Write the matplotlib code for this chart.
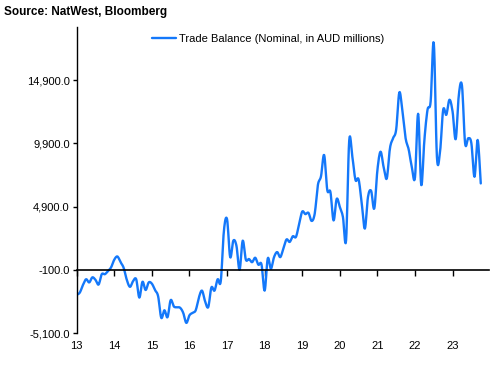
import matplotlib
matplotlib.use("Agg")
import matplotlib.pyplot as plt
import numpy as np

plt.rcParams['font.family'] = ['Liberation Sans', 'DejaVu Sans']

# Monthly trade balance, Jan 2013 onwards (AUD millions)
trade_balance = [
    -2085, -1900, -1300, -850, -1100, -700, -900, -1267, -450, -450,
    -200, 100, 700, 950, 500, 50, -900, -1450, -1000, -850,
    -2300, -1050, -1700, -1100, -1200, -1700, -2200, -3900, -3300, -3850,
    -2500, -3000, -3070, -3100, -3500, -4300, -3700, -3500, -3300, -2300,
    -1750, -2600, -3050, -1500, -1750, -850, -1000, 3000, 3900, 900,
    2200, 1800, -100, 2200, 700, 750, 500, 850, 300, 320,
    -1750, 800, -20, 900, 1300, 900, 1600, 2300, 2100, 2550,
    2500, 3500, 4500, 4300, 4400, 3760, 4350, 6600, 7300, 8975,
    6200, 6050, 3800, 5500, 4870, 4070, 2226, 10110, 8840, 7000,
    7050, 5140, 3155, 5665, 6140, 4743, 7784, 9237, 8000, 7125,
    9503, 10300, 11000, 13922, 12413, 10301, 9400, 8000, 7205, 12231,
    6593, 10166, 12548, 13208, 17844, 8840, 9237, 12548, 12151, 13342,
    12413, 10222, 13739, 14454, 9904, 10301, 9904, 7252, 10166, 6728,
]
start_year = 2013
year_ticks = list(range(2013, 2024))
year_labels = [str(y % 100) for y in year_ticks]
y_ticks = [-5100, -100, 4900, 9900, 14900]

dates = start_year + np.arange(len(trade_balance)) / 12.0
vals = np.asarray(trade_balance, dtype=float)


def catmull_rom(x, y, n=8):
    xp = np.concatenate([[2 * x[0] - x[1]], x, [2 * x[-1] - x[-2]]])
    yp = np.concatenate([[2 * y[0] - y[1]], y, [2 * y[-1] - y[-2]]])
    xs, ys = [], []
    t = np.linspace(0, 1, n, endpoint=False)
    for i in range(1, len(xp) - 2):
        for arr, out in ((xp, xs), (yp, ys)):
            p0, p1, p2, p3 = arr[i - 1], arr[i], arr[i + 1], arr[i + 2]
            out.append(0.5 * ((2 * p1) + (-p0 + p2) * t
                              + (2 * p0 - 5 * p1 + 4 * p2 - p3) * t ** 2
                              + (-p0 + 3 * p1 - 3 * p2 + p3) * t ** 3))
    xs.append([x[-1]])
    ys.append([y[-1]])
    return np.concatenate(xs), np.concatenate(ys)


sx, sy = catmull_rom(dates, vals)

fig = plt.figure(figsize=(4.98, 3.71), dpi=100)
ax = fig.add_axes([0.154, 0.1024, 0.828, 0.825])

ax.plot(sx, sy, color='#1478FA', lw=1.7, solid_joinstyle='round',
        solid_capstyle='round', label='Trade Balance (Nominal, in AUD millions)')

ax.set_xlim(2013.0, 2023.97)
ax.set_ylim(-5100, 19100)

ax.spines['top'].set_visible(False)
ax.spines['right'].set_visible(False)
ax.spines['bottom'].set_position(('data', -100))
ax.spines['bottom'].set_linewidth(1.2)
ax.spines['left'].set_linewidth(1.0)

ax.set_yticks(y_ticks)
ax.set_yticklabels([f"{v:,.1f}" for v in y_ticks], fontsize=8)
ax.tick_params(axis='y', direction='out', length=3, width=1, pad=2)

ax.set_xticks(year_ticks)
ax.tick_params(axis='x', direction='out', length=4, width=1, labelbottom=False)

sec = ax.secondary_xaxis(0.0)
sec.set_xticks(year_ticks)
sec.set_xticklabels(year_labels, fontsize=8)
sec.spines['bottom'].set_visible(False)
sec.tick_params(axis='x', length=0, pad=6)

leg = ax.legend(loc='upper left', bbox_to_anchor=(0.285, 0.935), bbox_transform=fig.transFigure,
                frameon=False, fontsize=8, handlelength=2.2, handletextpad=0.2)

fig.text(0.008, 0.985, 'Source: NatWest, Bloomberg', fontsize=8.5, fontweight='bold',
         ha='left', va='top')

fig.savefig('out.png', dpi=100)
